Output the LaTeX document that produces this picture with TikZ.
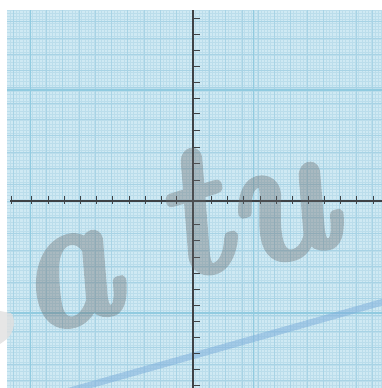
\documentclass[tikz,border=0pt]{standalone}
\usepackage{tikz}
\usepackage{fontspec}
\newfontface\markfont{lmroman10-bolditalic.otf}[FakeBold=2.5]
\definecolor{paper}{RGB}{207,233,243}
\definecolor{minorline}{RGB}{187,221,235}
\definecolor{midline}{RGB}{168,211,229}
\definecolor{majorline}{RGB}{145,203,224}
\definecolor{axisgray}{RGB}{62,66,70}
\definecolor{slopeblue}{RGB}{128,176,220}

\begin{document}
\begin{tikzpicture}[x=1pt, y=1pt, yscale=-1]
			%%%%% START %%%%%
			\useasboundingbox (0,0) rectangle (382,388);
			
			% graph paper
			\fill[paper] (7,10) rectangle (382,388);
			\begin{scope}
			\clip (7,10) rectangle (382,388);
			\draw[minorline, line width=0.35, step=3.26] (0,0) grid (390,390);
			\draw[midline, line width=0.7, step=16.3, shift={(193,201)}] (-195,-195) grid (195,195);
			\draw[majorline, line width=1.3] (7,90) -- (382,90);
			\draw[majorline, line width=1.3] (7,313) -- (382,313);
			\draw[majorline, line width=0.9] (30,10) -- (30,388);
			\draw[majorline, line width=0.9] (253,10) -- (253,388);
			
			\draw[slopeblue, line width=6.5, opacity=0.55] (62,393) -- (390,300);
			\end{scope}
			
			% axes
			\draw[axisgray, line width=1.2] (10,201) -- (382,201);
			\draw[axisgray, line width=1.2] (193,10) -- (193,388);
			
			\draw[axisgray, line width=1] (11.7,196) -- (11.7,204) (31.7,196) -- (31.7,204) (48.3,196) -- (48.3,204) (64.3,196) -- (64.3,204) (80,196) -- (80,204) (96.7,196) -- (96.7,204);
			\draw[axisgray, line width=1] (112.7,196) -- (112.7,204) (129.3,196) -- (129.3,204) (145,196) -- (145,204) (161,196) -- (161,204) (176.7,196) -- (176.7,204);
			\draw[axisgray, line width=1] (211.7,196) -- (211.7,204) (227.7,196) -- (227.7,204) (243.3,196) -- (243.3,204) (260,196) -- (260,204) (276,196) -- (276,204) (292,196) -- (292,204);
			\draw[axisgray, line width=1] (308.3,196) -- (308.3,204) (324.3,196) -- (324.3,204) (340.7,196) -- (340.7,204) (356.7,196) -- (356.7,204) (373.3,196) -- (373.3,204);
			
			\draw[axisgray, line width=1] (193,18) -- (200,18) (193,34) -- (200,34) (193,50) -- (200,50) (193,66) -- (200,66) (193,82) -- (200,82) (193,98) -- (200,98);
			\draw[axisgray, line width=1] (193,113) -- (200,113) (193,130) -- (200,130) (193,147) -- (200,147) (193,163) -- (200,163) (193,180) -- (200,180);
			\draw[axisgray, line width=1] (193,224) -- (200,224) (193,240.7) -- (200,240.7) (193,257) -- (200,257) (193,273.3) -- (200,273.3) (193,289) -- (200,289) (193,305) -- (200,305);
			\draw[axisgray, line width=1] (193,321) -- (200,321) (193,337.7) -- (200,337.7) (193,353.3) -- (200,353.3) (193,369.3) -- (200,369.3) (193,385) -- (200,385);
			
			% watermark
			\fill[black!12, opacity=0.8] (0,311) -- (11,313) .. controls (16,319) and (15,331) .. (7,339) -- (0,344) -- cycle;
			\begin{scope}[transparency group, opacity=0.36]
			\node[text=black!60, rotate=17, xscale=0.88, anchor=base, inner sep=0pt,
				font=\fontsize{190}{190}\markfont] (watermark) at (189,289) {a\hspace{61pt}\raisebox{10pt}{t}\hspace{4pt}u};
			\end{scope}
			
			%%%%% END %%%%%
		\end{tikzpicture}
\end{document}
